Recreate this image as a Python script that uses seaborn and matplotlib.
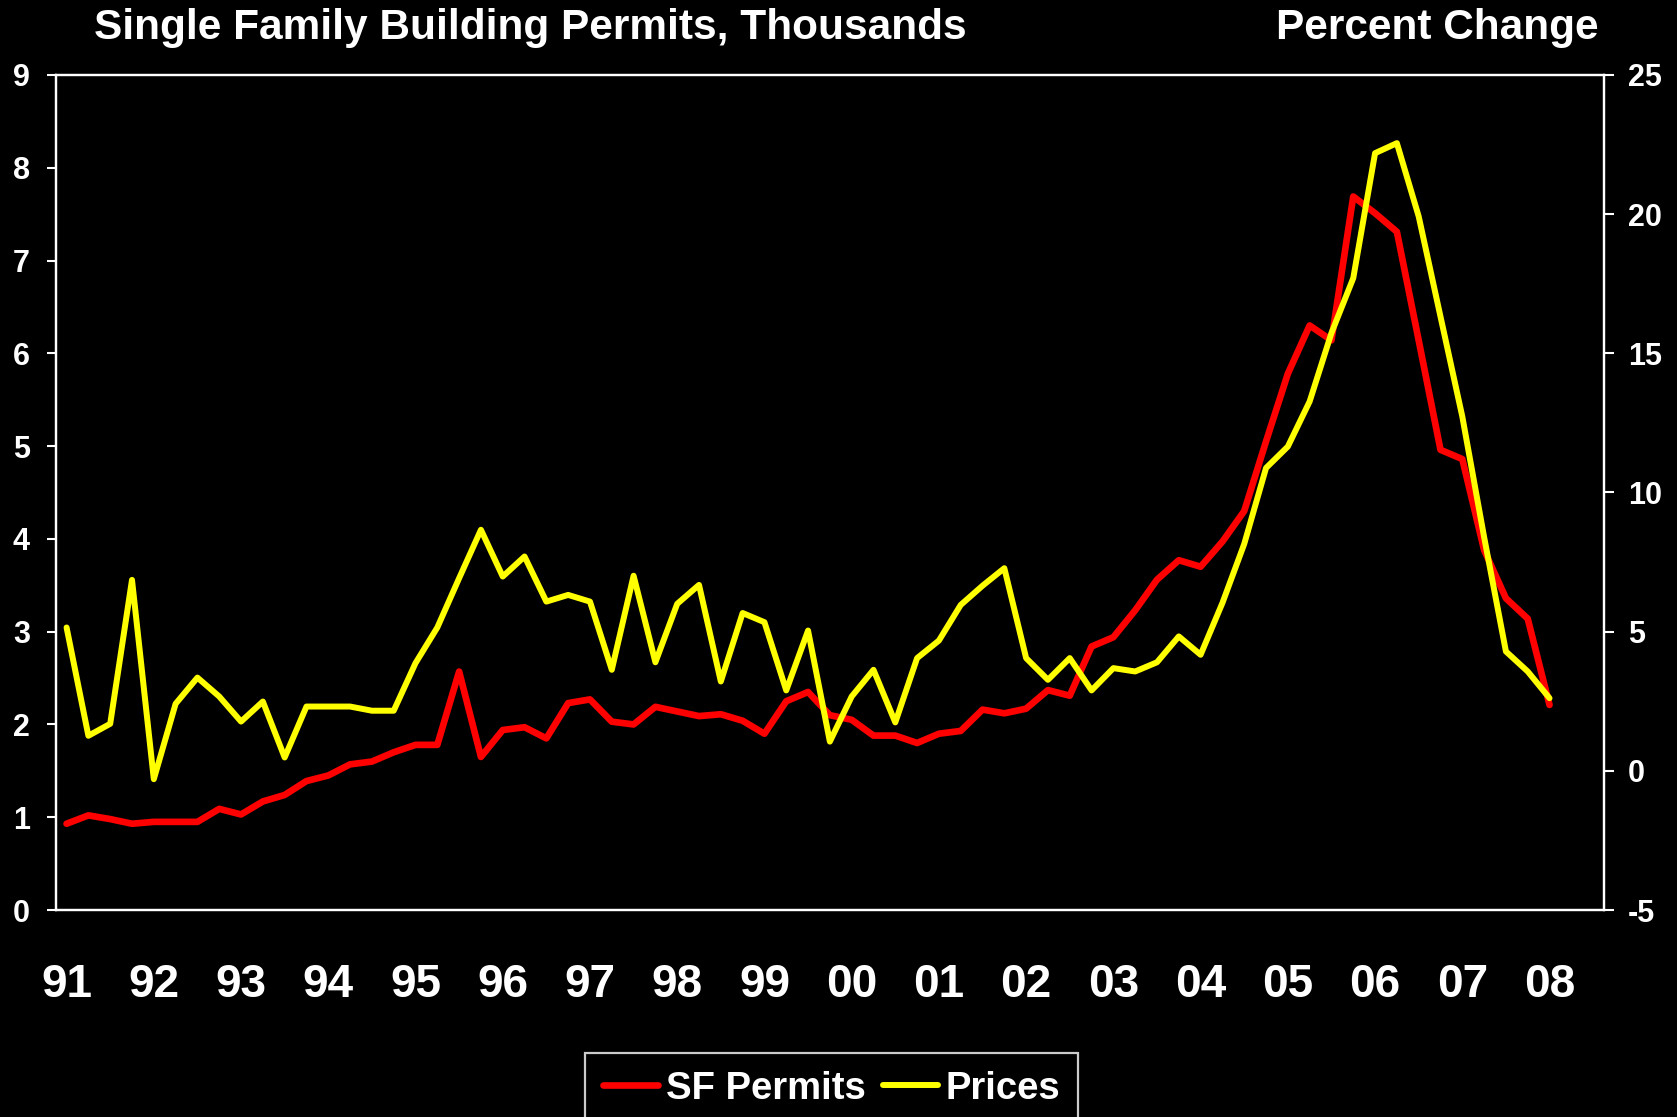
import pandas as pd
import seaborn as sns
import matplotlib.pyplot as plt

# quarterly values, 1991Q1 .. 2008Q1
permits = [0.93, 1.02, 0.98, 0.93, 0.95, 0.95, 0.95, 1.09, 1.03, 1.17,
           1.24, 1.39, 1.45, 1.57, 1.60, 1.70, 1.78, 1.78, 2.57, 1.65,
           1.94, 1.97, 1.85, 2.23, 2.27, 2.03, 2.00, 2.19, 2.14, 2.09,
           2.11, 2.04, 1.90, 2.25, 2.35, 2.10, 2.05, 1.88, 1.88, 1.80,
           1.90, 1.93, 2.16, 2.12, 2.17, 2.37, 2.31, 2.84, 2.94, 3.23,
           3.56, 3.77, 3.70, 3.97, 4.30, 5.05, 5.78, 6.30, 6.14, 7.69,
           7.51, 7.31, 6.14, 4.96, 4.86, 3.88, 3.36, 3.14, 2.21]

prices = [5.15, 1.26, 1.69, 6.86, -0.30, 2.41, 3.35, 2.67, 1.77, 2.49,
          0.48, 2.31, 2.31, 2.31, 2.16, 2.16, 3.87, 5.15, 6.92, 8.66,
          6.98, 7.70, 6.08, 6.32, 6.08, 3.63, 7.01, 3.90, 6.00, 6.68,
          3.21, 5.67, 5.34, 2.89, 5.04, 1.05, 2.67, 3.63, 1.74, 4.05,
          4.68, 5.96, 6.65, 7.28, 4.05, 3.27, 4.05, 2.89, 3.69, 3.57,
          3.90, 4.83, 4.17, 6.03, 8.15, 10.88, 11.65, 13.27, 15.73, 17.70,
          22.19, 22.55, 19.92, 16.32, 12.73, 8.40, 4.29, 3.57, 2.61]

year_labels = ["91", "92", "93", "94", "95", "96", "97", "98", "99", "00",
               "01", "02", "03", "04", "05", "06", "07", "08"]

df = pd.DataFrame({"q": range(len(permits)), "SF Permits": permits, "Prices": prices})

sns.set_theme(style="ticks")
plt.rcParams["font.family"] = ["Liberation Sans", "DejaVu Sans"]
plt.rcParams["font.weight"] = "bold"
plt.rcParams["axes.unicode_minus"] = False

fig = plt.figure(figsize=(16.77, 11.17), dpi=100, facecolor="black")
ax = fig.add_axes([0.0332, 0.1853, 0.9233, 0.7476])
ax.set_facecolor("black")
ax2 = ax.twinx()

sns.lineplot(data=df, x="q", y="SF Permits", ax=ax, color="#ff0000", linewidth=4.8, label="SF Permits", legend=False)
sns.lineplot(data=df, x="q", y="Prices", ax=ax2, color="#ffff00", linewidth=4.3, label="Prices", legend=False)

ax.set_xlim(-0.5, 70.5)
ax.set_ylim(0, 9)
ax2.set_ylim(-5, 25)
ax.set_yticks(range(0, 10))
ax2.set_yticks(range(-5, 30, 5))
ax.set_xticks(range(0, len(permits), 4))
ax.set_xticklabels(year_labels)
ax.set_xlabel("")
ax.set_ylabel("")
ax2.set_ylabel("")

for a in (ax, ax2):
    for s in a.spines.values():
        s.set_color("white")
        s.set_linewidth(1.6)
ax.tick_params(axis="x", length=0, pad=38, labelsize=33, colors="white")
ax.tick_params(axis="y", length=6.5, width=1.5, pad=12, labelsize=22, colors="white")
ax2.tick_params(axis="y", length=7, width=1.5, pad=10, labelsize=22, colors="white")
for lab in ax.get_xticklabels() + ax.get_yticklabels() + ax2.get_yticklabels():
    lab.set_fontweight("bold")

fig.text(94 / 1677, 1 - 28 / 1117, "Single Family Building Permits, Thousands",
         fontsize=30.5, fontweight="bold", color="white", ha="left", va="center")
fig.text(1599 / 1677, 1 - 28 / 1117, "Percent Change",
         fontsize=30.5, fontweight="bold", color="white", ha="right", va="center")

h1, l1 = ax.get_legend_handles_labels()
h2, l2 = ax2.get_legend_handles_labels()
leg = fig.legend(h1 + h2, l1 + l2, loc="upper center", bbox_to_anchor=(0.4958, 0.074),
                 ncol=2, frameon=True, fancybox=False, fontsize=27.5, handlelength=1.45,
                 handletextpad=0.2, columnspacing=0.45, borderpad=0.45)
leg.get_frame().set_facecolor("black")
leg.get_frame().set_edgecolor("white")
leg.get_frame().set_linewidth(1.6)
for t in leg.get_texts():
    t.set_color("white")
    t.set_fontweight("bold")

fig.savefig("out.png", dpi=100, facecolor="black")
